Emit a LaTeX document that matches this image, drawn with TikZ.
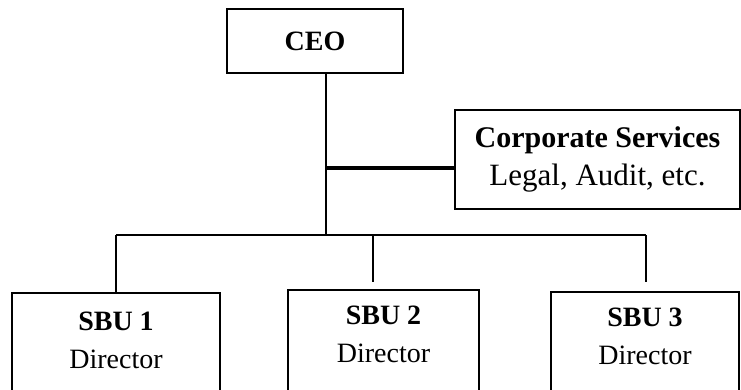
\documentclass[tikz,border=0pt]{standalone}
\usepackage{fontspec}
\setmainfont{Liberation Serif}
\usetikzlibrary{positioning}

\begin{document}
\begin{tikzpicture}[
x=1pt,y=-1pt,
box/.style={draw,line width=1.6pt,inner sep=0pt},
txt/.style={align=center,inner sep=0pt,font=\fontsize{28}{38}\selectfont},
link/.style={line width=1.6pt}
]

\useasboundingbox (0,0) rectangle (741,389);
\clip (0,0) rectangle (741,389);

% top of the chart
\node[box,txt,minimum width=176pt,minimum height=64pt] (ceo) at (315,41) {\textbf{CEO}};
\node[box,txt,minimum width=285pt,minimum height=99pt] (corp) at (597.5,159.5)
{\fontsize{30}{40}\selectfont\textbf{Corporate Services}\\\fontsize{31}{40}\selectfont Legal, Audit, etc.};

% business units (cut off at the bottom)
\node[box,minimum width=208pt,minimum height=140pt] (sbu1) at (116,363) {};
\node[box,minimum width=191pt,minimum height=140pt] (sbu2) at (383.5,360) {};
\node[box,minimum width=188pt,minimum height=140pt] (sbu3) at (645,362) {};
\node[txt,below=20pt of sbu1.north] (sbu1t) {\textbf{SBU 1}\\Director};
\node[txt,below=17pt of sbu2.north] (sbu2t) {\textbf{SBU 2}\\Director};
\node[txt,below=17pt of sbu3.north] (sbu3t) {\textbf{SBU 3}\\Director};

% lines
\coordinate (hub) at (326,168);
\coordinate (trunk) at (326,235);
\coordinate (drop1) at (116,235);
\coordinate (drop2) at (373,235);
\coordinate (drop3) at (646,235);
\coordinate (end2) at (373,282);
\coordinate (end3) at (646,282);

\draw[link] (ceo.south -| trunk) -- (trunk);
\draw[line width=3.6pt] (hub) -- (corp.west |- hub);
\draw[link] (drop1) -- (drop3);
\draw[link] (drop1) -- (sbu1.north -| drop1);
\draw[link] (drop2) -- (end2);
\draw[link] (drop3) -- (end3);

\end{tikzpicture}
\end{document}
